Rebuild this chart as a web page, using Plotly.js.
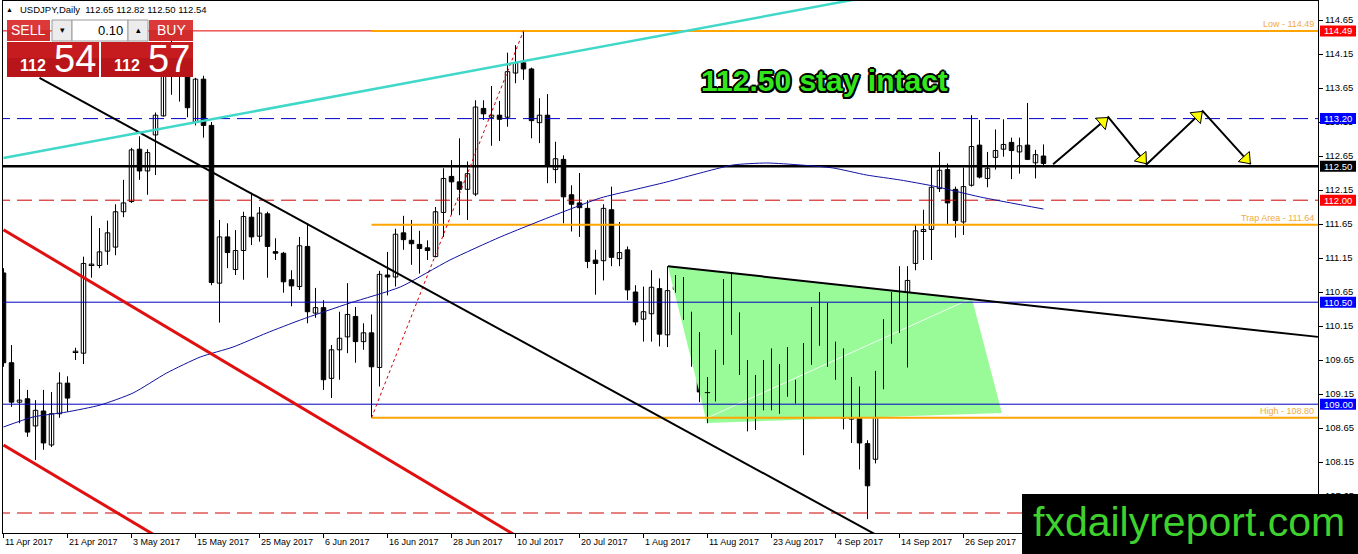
<!DOCTYPE html>
<html><head><meta charset="utf-8">
<script src="https://cdn.plot.ly/plotly-3.0.1.min.js"></script>
<style>html,body{margin:0;padding:0;background:#fff;overflow:hidden}#chart{width:1358px;height:554px}</style>
</head><body><div id="chart"></div>
<script>
// ================= DATA =================
const symbol = 'USDJPY';
const timeframe = 'Daily';
const opens = [110.93,109.61,109.03,109.08,108.68,108.90,108.40,108.86,109.31,109.76,
109.75,111.04,111.04,111.25,111.31,111.83,111.98,112.75,112.43,112.96,
113.24,113.95,114.05,113.85,113.15,113.78,113.10,110.78,111.46,110.98,
111.26,111.75,111.47,111.80,111.24,111.22,110.83,110.73,111.32,110.34,
110.42,109.38,109.80,109.99,110.29,109.92,110.05,109.54,110.90,110.87,
111.52,111.41,111.35,111.30,111.17,111.82,112.35,112.27,112.16,112.09,
113.35,113.22,113.25,113.22,113.87,114.02,113.93,113.14,113.25,112.45,
112.60,112.08,111.96,111.88,111.12,111.11,111.86,111.14,111.27,110.65,
110.25,110.33,110.70,110.02,110.69,110.70,110.31,110.04,109.17,109.16,
109.61,110.65,110.18,109.54,109.36,108.97,109.54,109.01,109.53,109.17,
109.22,109.68,110.23,109.95,109.51,109.70,108.78,109.22,108.42,108.19,
109.40,110.14,110.46,110.23,111.07,111.54,111.57,112.17,112.45,112.16,
111.68,112.22,112.81,112.32,112.63,112.75,112.85,112.71,112.81,112.55,
112.65];
const highs = [111.00,109.87,109.37,109.21,109.06,109.21,109.18,109.47,109.41,109.83,
111.17,111.77,111.59,111.70,111.94,112.30,112.77,112.94,112.75,113.29,
114.05,114.37,114.20,113.95,113.80,113.83,113.15,111.71,111.66,111.56,
111.83,112.11,111.90,111.83,111.44,111.24,110.97,111.46,111.66,110.71,
110.53,109.87,110.36,110.78,110.43,110.19,110.32,110.96,111.24,111.58,
111.77,111.71,111.55,111.41,111.90,112.47,112.59,112.91,112.57,113.47,
113.47,113.68,113.46,114.17,114.28,114.49,113.95,113.50,113.56,112.86,
112.66,112.22,112.40,112.00,111.27,111.94,112.20,111.68,111.32,110.75,
110.73,110.97,110.85,111.03,110.90,110.87,110.36,110.06,109.40,109.80,
110.84,110.92,110.35,109.65,109.43,109.65,109.82,109.59,109.84,109.36,
109.90,110.43,110.65,110.49,109.92,109.82,109.40,109.26,108.47,109.49,
110.25,110.65,111.03,111.03,111.64,111.86,112.49,112.71,112.54,112.20,
112.48,113.25,113.18,112.71,113.04,113.19,112.92,112.92,113.43,112.74,
112.82];
const lows = [109.55,108.96,108.72,108.52,108.18,108.33,108.37,108.80,108.89,109.65,
109.59,110.86,111.00,111.05,111.19,111.75,111.96,112.30,112.08,112.37,
113.23,113.55,113.45,113.22,113.10,112.92,110.75,110.20,111.00,110.90,
110.83,111.34,111.39,110.86,111.12,110.64,110.44,110.68,110.19,110.27,
109.21,109.09,109.36,109.75,109.61,109.80,108.81,109.26,110.60,110.73,
111.27,111.05,110.92,111.12,111.16,111.46,111.78,111.78,111.71,112.06,
113.18,112.80,112.87,113.08,113.72,113.77,112.91,112.84,112.25,112.25,
111.66,111.54,111.46,111.00,110.61,110.82,111.03,111.03,110.53,110.16,
109.92,109.92,109.85,109.84,110.64,110.24,109.55,109.03,108.72,109.04,
109.58,110.02,109.43,108.60,108.62,108.91,108.91,108.86,109.11,109.01,
108.25,109.58,109.86,109.55,109.36,108.63,108.43,108.04,107.31,108.13,
109.22,109.89,110.05,109.54,110.97,111.12,111.12,112.12,111.63,111.45,
111.49,112.20,112.32,112.19,112.45,112.64,112.31,112.39,112.59,112.32,
112.50];
const closes = [109.61,109.03,109.06,108.59,108.91,108.43,108.86,109.31,109.09,109.78,
111.07,111.06,111.24,111.52,111.83,111.96,112.74,112.43,112.70,113.25,
113.95,114.05,113.85,113.36,113.78,113.10,110.79,111.46,111.23,111.26,
111.76,111.46,111.81,111.32,111.22,110.80,110.74,111.33,110.36,110.42,
109.36,109.80,109.97,110.32,109.92,110.05,109.55,110.91,110.87,111.50,
111.42,111.36,111.29,111.26,111.83,112.32,112.27,112.16,112.39,113.37,
113.27,113.25,113.19,113.89,114.02,113.93,113.17,113.25,112.50,112.61,
112.05,111.94,111.89,111.10,111.07,111.88,111.16,111.23,110.68,110.21,
110.36,110.72,110.03,110.67,110.73,110.31,110.05,109.18,109.19,109.62,
110.64,110.17,109.55,109.17,108.97,109.55,109.02,109.54,109.36,109.23,
109.67,110.21,109.95,110.23,109.71,108.79,109.21,108.43,107.80,109.38,
110.14,110.47,110.21,110.82,111.55,111.57,112.19,112.44,111.96,111.70,
112.20,112.79,112.34,112.47,112.73,112.82,112.73,112.80,112.60,112.67,
112.54];
const xTickIdx = [0,8,16,24,32,40,48,56,64,72,80,88,96,104,112,120];
const xTickLabels = ['11 Apr 2017','21 Apr 2017','3 May 2017','15 May 2017','25 May 2017','6 Jun 2017',
'16 Jun 2017','28 Jun 2017','10 Jul 2017','20 Jul 2017','1 Aug 2017','11 Aug 2017','23 Aug 2017',
'4 Sep 2017','14 Sep 2017','26 Sep 2017'];
const yTickVals = [107.65,108.15,108.65,109.15,109.65,110.15,110.65,111.15,111.65,112.15,112.65,113.15,113.65,114.15,114.65];
// moving average
const maBars = [0,3.7,7.9,12.1,16.2,20.4,24.6,28.7,32.9,37.1,43.3,49.6,55.8,62.1,68.3,74.6,78.7,82.9,87.1,91.2,95.4,99.6,103.7,107.9,112.1,116.2,122.1,130];
const maValues = [108.665,108.812,108.885,108.988,109.165,109.459,109.694,109.841,110.047,110.238,110.488,110.724,111.120,111.459,111.753,112.032,112.150,112.268,112.400,112.518,112.547,112.518,112.474,112.370,112.297,112.209,112.047,111.870];
// horizontal levels
const hLevels = [114.49,113.20,112.50,112.00,110.50,109.00,107.40];
// fibonacci object
const fibLevels = [114.49,111.64,108.80];
const fibNames = ['Low','Trap Area','High'];
const fibAnchorBars = [46,65];
const fibAnchorPrices = [108.80,114.49];
// trend lines
const cyanBars = [0,110], cyanPrices = [112.62,115.03];
const blackDiagBars = [4.5,110], blackDiagPrices = [113.80,107.02];
const redUpperBars = [0,66], redUpperPrices = [111.566,106.93];
const redLowerBars = [0,20], redLowerPrices = [108.40,106.996];
const triTopBars = [83.06,164.3], triTopPrices = [111.03,109.99];
const zoneBars = [83.06,121.07,124.8,87.94], zonePrices = [111.03,110.547,108.87,108.724];
const zoneDiagBars = [87.94,121.06], zoneDiagPrices = [108.797,110.56];
// projected path
const pathBars = [131.2,138.1,142.9,149.9,155.9];
const pathPrices = [112.53,113.22,112.53,113.31,112.53];
const bidBig = ['112','54'], askBig = ['112','57'], lotText = '0.10';
const headline = '112.50 stay intact';
const watermark = 'fxdailyreport.com';

// ================= LAYOUT CONSTANTS =================
const W = 1358, H = 554, L = 3, R = 1318, T = 1, B = 533;
const PXBAR = 8, PXPRICE = 68;
const xMin = -0.0625, xMax = xMin + (R - L) / PXBAR;
const yMax = 114.65 + (20 - T) / PXPRICE, yMin = yMax - (B - T) / PXPRICE;
const pxX = x => (x - L) / (R - L);
const pxY = y => (B - y) / (B - T);
const NARROW = 'Liberation Sans Narrow, Arial Narrow, Liberation Sans, Arial, sans-serif';
const SANS = 'Liberation Sans, Arial, sans-serif';

const traces = [];
const bars = opens.map((_, i) => i);

// zone
traces.push({type:'scatter', mode:'lines', x: zoneBars.concat([zoneBars[0]]), y: zonePrices.concat([zonePrices[0]]),
  fill:'toself', fillcolor:'#98fb98', line:{width:0, color:'#98fb98'}, hoverinfo:'skip'});
traces.push({type:'scatter', mode:'lines', x: zoneDiagBars, y: zoneDiagPrices, line:{color:'rgba(255,255,255,0.85)', width:1}, hoverinfo:'skip'});

// wicks
const wx = [], wy = [];
bars.forEach(i => { wx.push(i, i, null); wy.push(lows[i], highs[i], null); });
traces.push({type:'scatter', mode:'lines', x: wx, y: wy, line:{color:'#000', width:1}, hoverinfo:'skip'});

// bodies
const up = bars.filter(i => closes[i] >= opens[i]);
const dn = bars.filter(i => closes[i] < opens[i]);
traces.push({type:'bar', x: up, base: up.map(i => opens[i]), y: up.map(i => closes[i] - opens[i]), width: 0.56,
  marker:{color:'#fff', line:{color:'#000', width:1}}, hoverinfo:'skip'});
traces.push({type:'bar', x: dn, base: dn.map(i => closes[i]), y: dn.map(i => opens[i] - closes[i]), width: 0.56,
  marker:{color:'#000', line:{color:'#000', width:1}}, hoverinfo:'skip'});
const dx = [], dy = [];
bars.filter(i => Math.abs(closes[i] - opens[i]) < 0.03).forEach(i => { dx.push(i - 0.33, i + 0.33, null); dy.push(opens[i], opens[i], null); });
traces.push({type:'scatter', mode:'lines', x: dx, y: dy, line:{color:'#000', width:1}, hoverinfo:'skip'});

// horizontal levels
const levelStyle = [
  {color:'#e00000', width:1, dash:'solid', box:'#ff0000'},
  {color:'#0000c8', width:1, dash:'15px,7px', box:'#0000ff'},
  {color:'#000000', width:2.5, dash:'solid', box:'#000000'},
  {color:'#d00000', width:1, dash:'15px,7px', box:'#ff0000'},
  {color:'#0000c0', width:1, dash:'solid', box:'#0000ff'},
  {color:'#0000c0', width:1, dash:'solid', box:'#0000ff'},
  {color:'#d00000', width:1, dash:'15px,7px', box:null}
];
hLevels.forEach((v, i) => traces.push({type:'scatter', mode:'lines', x:[xMin - 1, xMax + 1], y:[v, v],
  line:{color: levelStyle[i].color, width: levelStyle[i].width, dash: levelStyle[i].dash}, hoverinfo:'skip'}));
// fib
fibLevels.forEach(v => traces.push({type:'scatter', mode:'lines', x:[fibAnchorBars[0], xMax + 1], y:[v, v],
  line:{color:'#ffa500', width:2}, hoverinfo:'skip'}));
traces.push({type:'scatter', mode:'lines', x: fibAnchorBars, y: fibAnchorPrices, line:{color:'#d00000', width:1, dash:'dot'}, hoverinfo:'skip'});
// MA
traces.push({type:'scatter', mode:'lines', x: maBars, y: maValues, line:{color:'#1010a0', width:1, shape:'spline', smoothing:0.6}, hoverinfo:'skip'});
// trend lines
traces.push({type:'scatter', mode:'lines', x: redUpperBars, y: redUpperPrices, line:{color:'#e01010', width:3}, hoverinfo:'skip'});
traces.push({type:'scatter', mode:'lines', x: redLowerBars, y: redLowerPrices, line:{color:'#e01010', width:3}, hoverinfo:'skip'});
traces.push({type:'scatter', mode:'lines', x: blackDiagBars, y: blackDiagPrices, line:{color:'#000', width:2}, hoverinfo:'skip'});
traces.push({type:'scatter', mode:'lines', x: cyanBars, y: cyanPrices, line:{color:'#40d8c8', width:2.5}, hoverinfo:'skip'});
traces.push({type:'scatter', mode:'lines', x: triTopBars, y: triTopPrices, line:{color:'#000', width:2}, hoverinfo:'skip'});
// projected path + heads
traces.push({type:'scatter', mode:'lines', x: pathBars, y: pathPrices, line:{color:'#000', width:2}, hoverinfo:'skip', cliponaxis:false});
const hx = [], hy = [], ha = [];
for (let i = 1; i < pathBars.length; i++) {
  const dk = pathBars[i] - pathBars[i-1], dp = pathPrices[i] - pathPrices[i-1];
  const lx = dk * PXBAR, ly = dp * PXPRICE, len = Math.hypot(lx, ly);
  const back = 7 / len;
  hx.push(pathBars[i] - dk * back); hy.push(pathPrices[i] - dp * back);
  ha.push(Math.atan2(lx, ly) * 180 / Math.PI);
}
traces.push({type:'scatter', mode:'markers', x: hx, y: hy, marker:{symbol:'triangle-up', size:13, angle: ha, color:'#ffff00', line:{color:'#000', width:1}}, hoverinfo:'skip'});

// ================= SHAPES (decor) =================
const rect = (x0, y0, x1, y1, fill, line) => ({type:'rect', xref:'paper', yref:'paper', layer:'above',
  x0: pxX(x0), x1: pxX(x1), y0: pxY(y1), y1: pxY(y0), fillcolor: fill, line: line || {width:0}});
const shapes = [
  rect(7, 20, 50, 41, '#d22b2b'), rect(7, 20, 50, 30, '#dc3a3a'),
  rect(52, 20, 72, 41, '#ececec', {color:'#9a9a9a', width:1}),
  rect(72, 20, 128, 41, '#ffffff', {color:'#9a9a9a', width:1}),
  rect(128, 20, 148, 41, '#ececec', {color:'#9a9a9a', width:1}),
  rect(149, 20, 193, 41, '#d22b2b'), rect(149, 20, 193, 30, '#dc3a3a'),
  rect(7, 42, 99, 77, '#b8151a'), rect(7, 42, 99, 58, '#c61c20'),
  rect(101, 42, 193, 77, '#b8151a'), rect(101, 42, 193, 58, '#c61c20'),
  rect(1022, 494, 1358, 554, '#000000')
];
// level price boxes on axis
hLevels.forEach((v, i) => { if (levelStyle[i].box) shapes.push({type:'rect', xref:'paper', yref:'y', layer:'above',
  x0: pxX(1320), x1: pxX(1356), y0: v - 5.5 / PXPRICE, y1: v + 5.5 / PXPRICE, fillcolor: levelStyle[i].box, line:{width:0}}); });

// ================= ANNOTATIONS =================
const ann = (x, y, text, size, color, extra) => Object.assign({xref:'paper', yref:'paper', x: pxX(x), y: pxY(y), text,
  showarrow:false, xanchor:'center', yanchor:'middle', font:{family: SANS, size, color}}, extra || {});
const annotations = [
  ann(9, 9, '▲', 7, '#000'),
  ann(18, 9, `${symbol},${timeframe}  ${opens[130].toFixed(2)} ${highs[130].toFixed(2)} ${lows[130].toFixed(2)} ${closes[130].toFixed(2)}`, 9.5, '#000', {xanchor:'left'}),
  ann(28, 30, 'SELL', 13, '#fff', {font:{family: NARROW, size:14, color:'#fff'}}),
  ann(62, 30, '▾', 9, '#000'),
  ann(125, 30, lotText, 13, '#000', {xanchor:'right'}),
  ann(138, 30, '▴', 9, '#000'),
  ann(171, 30, 'BUY', 13, '#fff', {font:{family: NARROW, size:14, color:'#fff'}}),
  ann(48, 65, '<b>' + bidBig[0] + '</b>', 16, '#fff', {xanchor:'right', font:{family: NARROW, size:16, color:'#fff'}}),
  ann(52, 59, bidBig[1], 38, '#fff', {xanchor:'left', font:{family: NARROW, size:38, color:'#fff'}}),
  ann(142, 65, '<b>' + askBig[0] + '</b>', 16, '#fff', {xanchor:'right', font:{family: NARROW, size:16, color:'#fff'}}),
  ann(146, 59, askBig[1], 38, '#fff', {xanchor:'left', font:{family: NARROW, size:38, color:'#fff'}}),
  ann(824, 80, '<b>' + headline + '</b>', 30, '#33e61c', {font:{family: SANS, size:30, color:'#33e61c',
     shadow:'2px 0 0 #000, -2px 0 0 #000, 0 2px 0 #000, 0 -2px 0 #000, 1.5px 1.5px 0 #000, -1.5px -1.5px 0 #000, 1.5px -1.5px 0 #000, -1.5px 1.5px 0 #000'}}),
  ann(1189, 522, watermark, 41, '#3fd22e')
];
// x axis date labels (MT4 style: label starts at the tick)
xTickIdx.forEach((k, i) => annotations.push({xref:'x', yref:'paper', x: k, y: pxY(542), xanchor:'left', yanchor:'middle',
  xshift: -1, showarrow:false, text: xTickLabels[i], font:{family: SANS, size:9, color:'#000'}}));
fibLevels.forEach((v, i) => annotations.push({xref:'paper', yref:'y', x: pxX(1316), y: v, xanchor:'right', yanchor:'bottom',
  yshift: 0, showarrow:false, text: `${fibNames[i]} - ${v.toFixed(2)}`, font:{family: SANS, size:9, color:'#f2aa40'}}));
hLevels.forEach((v, i) => { if (levelStyle[i].box) annotations.push({xref:'paper', yref:'y', x: pxX(1322), y: v, xanchor:'left', yanchor:'middle',
  showarrow:false, text: v.toFixed(2), font:{family: SANS, size:9.5, color:'#fff'}}); });

const layout = {
  width: W, height: H, margin:{l: L, r: W - R, t: T, b: H - B, pad: 0},
  paper_bgcolor:'#fff', plot_bgcolor:'#fff', showlegend:false, barmode:'overlay',
  xaxis:{range:[xMin, xMax], tickvals: xTickIdx, ticks:'outside', ticklen:4, tickcolor:'#000', showticklabels:false,
    showgrid:false, zeroline:false, showline:true, linecolor:'#000', linewidth:1, mirror:true, fixedrange:true},
  yaxis:{range:[yMin, yMax], side:'right', tickvals: yTickVals, ticktext: yTickVals.map(v => v.toFixed(2)), ticks:'outside', ticklen:4,
    tickcolor:'#000', tickfont:{family: SANS, size:9.5, color:'#000'}, showgrid:false, zeroline:false,
    showline:true, linecolor:'#000', linewidth:1, mirror:true, fixedrange:true},
  shapes, annotations
};
Plotly.newPlot('chart', traces, layout, {staticPlot:true, displayModeBar:false});
</script></body></html>
